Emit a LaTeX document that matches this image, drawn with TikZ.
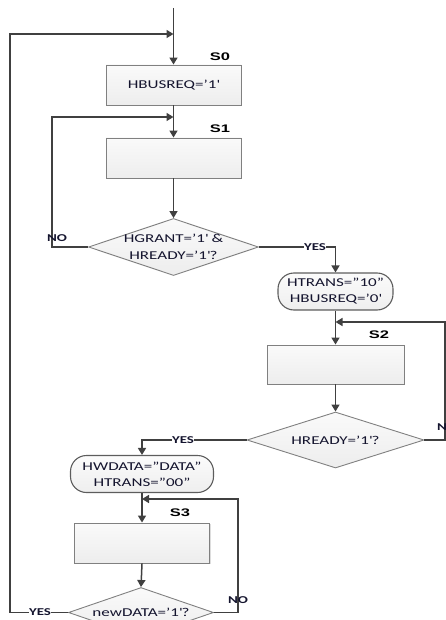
\documentclass[tikz,border=0pt]{standalone}
\usepackage{fontspec}
\setmainfont{Carlito}[FakeStretch=1.42]
\newfontfamily\labfont{Liberation Sans}[FakeStretch=1.5]
\usetikzlibrary{shapes.geometric,shapes.misc,arrows.meta,shadows}
\definecolor{linec}{HTML}{404040}
\definecolor{boxline}{HTML}{808080}
\definecolor{txt}{HTML}{14142E}
\newcommand{\sq}{\textquotesingle}
\begin{document}
\begin{tikzpicture}[x=1pt,y=-1pt,
  every node/.style={font=\fontsize{12}{16}\selectfont, text=txt},
  statebox/.style={rectangle, draw=boxline, line width=0.9pt, top color=gray!4, bottom color=gray!14,
    minimum width=135pt, minimum height=40pt, inner sep=0pt,
    drop shadow={shadow xshift=1pt, shadow yshift=-1pt, fill=gray!45, opacity=0.6}},
  decision/.style={diamond, draw=boxline, line width=0.9pt, top color=gray!4, bottom color=gray!14,
    inner sep=0pt},
  dtext/.style={align=center, font=\fontsize{12}{17}\selectfont, text=txt},
  action/.style={rectangle, rounded corners=16pt, draw=linec!85, line width=1.1pt, top color=gray!3, bottom color=gray!13,
    inner sep=0pt, align=center},
  flow/.style={draw=linec, line width=1.5pt},
  arr/.style={flow, -{Triangle[length=7pt,width=8pt]}},
  slabel/.style={font=\labfont\bfseries\fontsize{11}{13}\selectfont, text=black},
  yn/.style={font=\bfseries\fontsize{10.5}{12}\selectfont, text=txt, fill=white, inner sep=0.5pt}
]
\useasboundingbox (0,0) rectangle (446,620);

% nodes
\coordinate (top) at (173.5,8);
\coordinate (j0) at (173.5,34);
\node[statebox] (s0) at (173.5,85) {HBUSREQ=’1\sq};
\coordinate (j1) at (173.5,117);
\node[statebox] (s1) at (173.5,158) {};
\node[decision, minimum width=170pt, minimum height=57pt,
  label={[dtext]center:HGRANT=’1\sq{} \&\\HREADY=’1\sq?}] (d1) at (173.5,247) {};
\node[action, minimum width=115pt, minimum height=37pt] (r1) at (335.5,291.5) {HTRANS=”10"\\HBUSREQ=’0\sq};
\coordinate (j2) at (335.5,322);
\node[statebox, minimum width=137pt, minimum height=39pt] (s2) at (335.5,364.5) {};
\node[decision, minimum width=177pt, minimum height=56pt,
  label={[dtext]center:HREADY=’1\sq?}] (d2) at (335.5,440) {};
\node[action, minimum width=143pt, minimum height=37pt] (r2) at (142,474) {HWDATA=”DATA”\\HTRANS=”00"};
\coordinate (j3) at (142,499);
\node[statebox] (s3) at (142,543) {};
\node[decision, minimum width=145pt, minimum height=50pt,
  label={[dtext]center:newDATA=’1\sq?}] (d3) at (141,612.5) {};

% corner coordinates
\coordinate (c1) at (52,247);
\coordinate (c2) at (335.5,247);
\coordinate (c3) at (445,440);
\coordinate (c4) at (142,440);
\coordinate (c5) at (238,612.5);
\coordinate (c6) at (10,612.5);

% state labels
\node[slabel] (l0) at (220,57) {S0};
\node[slabel] (l1) at (220,129) {S1};
\node[slabel] (l2) at (379,335) {S2};
\node[slabel] (l3) at (180,513) {S3};

% main flow
\draw[arr] (top) -- (s0.north);
\draw[arr] (s0.south) -- (s1.north);
\draw[arr] (s1.south) -- (d1.north);
\draw[arr] (d1.east) -- (c2) -- (r1.north);
\draw[arr] (r1.south) -- (s2.north);
\draw[arr] (s2.south) -- (d2.north);
\draw[arr] (d2.west) -- (c4) -- (r2.north);
\draw[arr] (r2.south) -- (s3.north);
\draw[arr] (s3.south) -- (d3.north);

% loops
\draw[arr] (d1.west) -- (c1) |- (j1);
\draw[arr] (d2.east) -- (c3) |- (j2);
\draw[arr] (d3.east) -- (c5) |- (j3);
\draw[arr] (d3.west) -- (c6) |- (j0);

% yes/no labels
\node[yn, fill=none] (n1) at (57,238) {NO};
\node[yn] (y1) at (315,247) {YES};
\node[yn, fill=none] (n2) at (447,427) {NO};
\node[yn] (y2) at (183,440) {YES};
\node[yn, fill=none] (n3) at (238,600) {NO};
\node[yn] (y3) at (40,612.5) {YES};
\end{tikzpicture}
\end{document}
